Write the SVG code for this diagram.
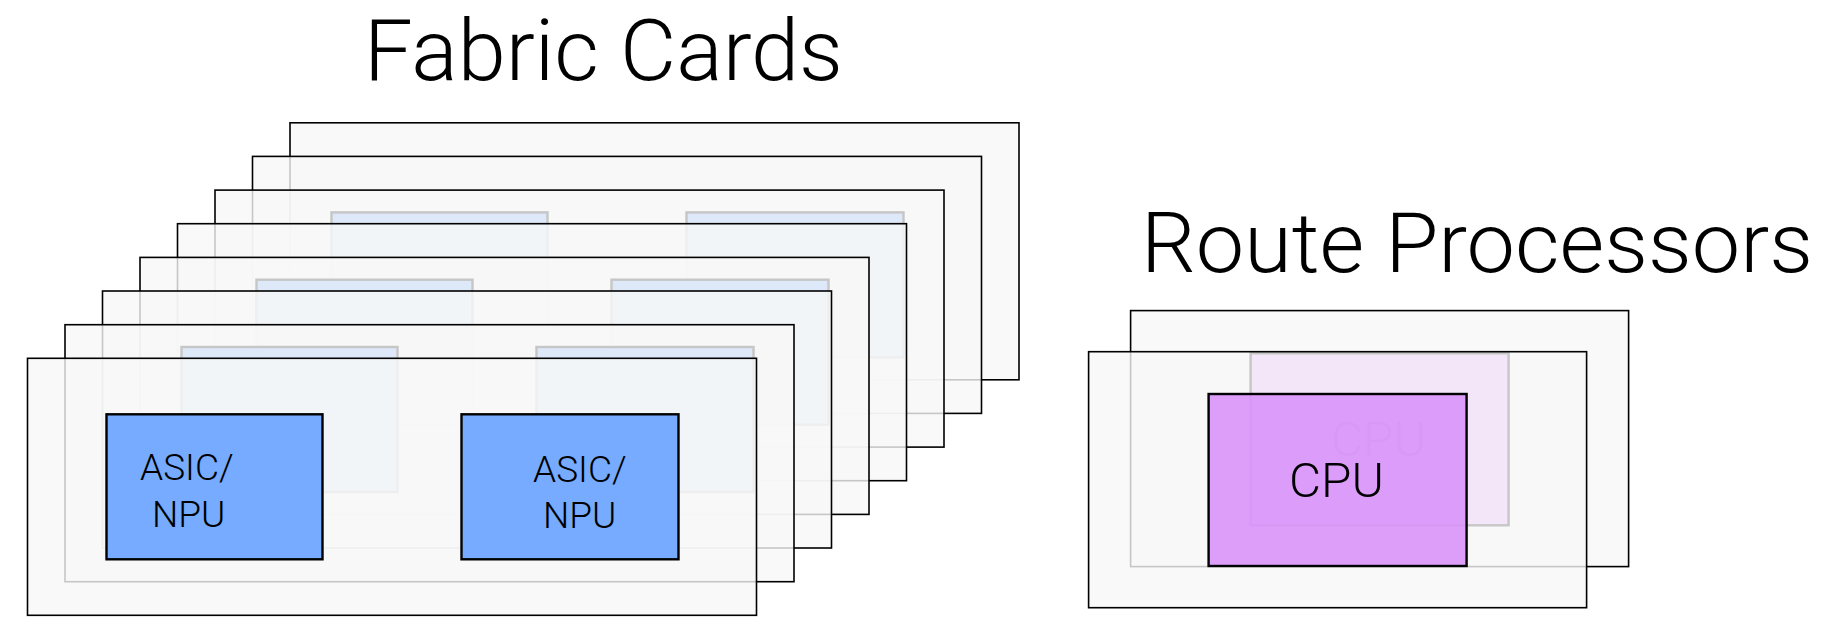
<svg xmlns="http://www.w3.org/2000/svg" width="1845" height="620" viewBox="0 0 1845 620">
  <style>
    .card { fill: #f7f7f7; fill-opacity: 0.8; stroke: #000; stroke-width: 1.6; }
    .asic { fill: #76abff; stroke: #000; stroke-width: 2.4; }
    .cpu { fill: #d994f9; fill-opacity: 0.9; stroke: #000; stroke-width: 2.4; }
    .title { font-family: Roboto, "Liberation Sans", sans-serif; font-weight: 300; fill: #000; }
    .lbl { font-family: Roboto, "Liberation Sans", sans-serif; font-weight: 300; fill: #000; font-size: 37px; }
    .cpulbl { font-family: Roboto, "Liberation Sans", sans-serif; font-weight: 300; fill: #000; font-size: 49px; }
  </style>
  <rect width="1845" height="620" fill="#ffffff"/>

  <text class="title" x="364" y="80" font-size="86" textLength="479" lengthAdjust="spacingAndGlyphs">Fabric Cards</text>
  <text class="title" x="1141" y="272" font-size="84" textLength="672" lengthAdjust="spacingAndGlyphs">Route Processors</text>

  <!-- Fabric cards, back to front -->
  <g id="fabric-card-8"><rect class="card" x="290" y="122.8" width="729" height="257"/></g>
  <g id="fabric-card-7">
    <rect class="card" x="252.5" y="156.4" width="729" height="257"/>
    <rect class="asic" x="331.5" y="212.4" width="216" height="145"/>
    <rect class="asic" x="686.5" y="212.4" width="217" height="145"/>
  </g>
  <g id="fabric-card-6"><rect class="card" x="215" y="190.1" width="729" height="257"/></g>
  <g id="fabric-card-5">
    <rect class="card" x="177.5" y="223.7" width="729" height="257"/>
    <rect class="asic" x="256.5" y="279.7" width="216" height="145"/>
    <rect class="asic" x="611.5" y="279.7" width="217" height="145"/>
  </g>
  <g id="fabric-card-4"><rect class="card" x="140" y="257.4" width="729" height="257"/></g>
  <g id="fabric-card-3">
    <rect class="card" x="102.5" y="291" width="729" height="257"/>
    <rect class="asic" x="181.5" y="347" width="216" height="145"/>
    <rect class="asic" x="536.5" y="347" width="217" height="145"/>
  </g>
  <g id="fabric-card-2"><rect class="card" x="65" y="324.7" width="729" height="257"/></g>
  <g id="fabric-card-1">
    <rect class="card" x="27.5" y="358.3" width="729" height="257"/>
    <g id="asic-1">
      <rect class="asic" x="106.5" y="414.3" width="216" height="145"/>
      <text class="lbl" x="140" y="480">ASIC/</text>
      <text class="lbl" x="152" y="527">NPU</text>
    </g>
    <g id="asic-2">
      <rect class="asic" x="461.5" y="414.3" width="217" height="145"/>
      <text class="lbl" x="533" y="482">ASIC/</text>
      <text class="lbl" x="543" y="528">NPU</text>
    </g>
  </g>

  <!-- Route processors -->
  <g id="rp-back">
    <rect class="card" x="1130.6" y="310.6" width="498" height="256"/>
    <rect class="cpu" x="1250.6" y="353.3" width="258" height="172"/>
    <text class="cpulbl" x="1331" y="456" textLength="95" lengthAdjust="spacingAndGlyphs">CPU</text>
  </g>
  <g id="rp-front">
    <rect class="card" x="1088.6" y="351.7" width="498" height="256"/>
    <rect class="cpu" x="1208.6" y="394" width="258" height="172"/>
    <text class="cpulbl" x="1289" y="497" textLength="95" lengthAdjust="spacingAndGlyphs">CPU</text>
  </g>

  <g id="connectors"/>
</svg>
